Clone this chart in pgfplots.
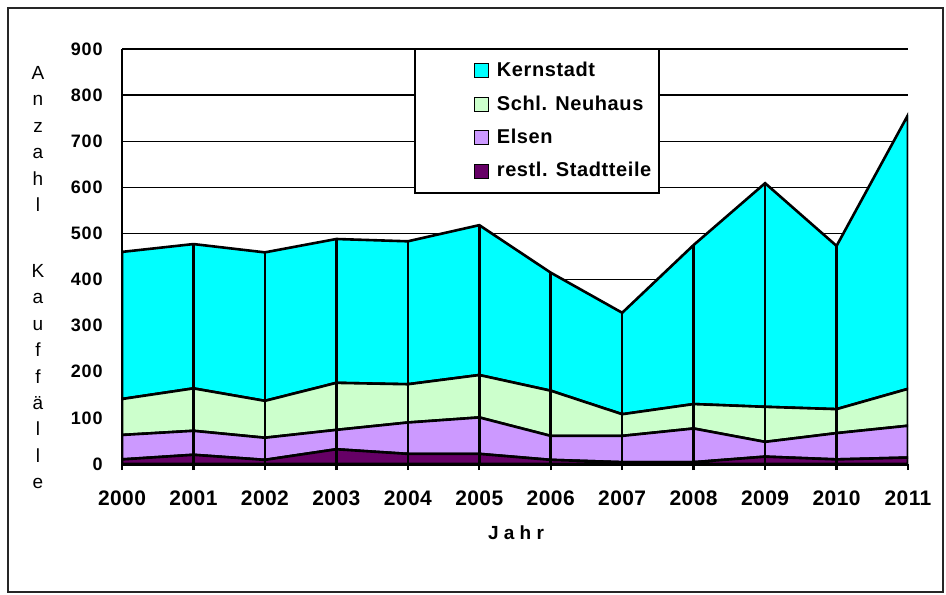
\documentclass[border=0pt]{standalone}
\usepackage{pgfplots}
\pgfplotsset{compat=1.18}
\usepackage{fontspec}
\setmainfont{Liberation Sans}
\definecolor{kern}{HTML}{00FFFF}
\definecolor{schl}{HTML}{CCFFCC}
\definecolor{elsen}{HTML}{CC99FF}
\definecolor{restl}{HTML}{660066}
\begin{document}
\begin{tikzpicture}
\useasboundingbox (0pt,0pt) rectangle (473pt,-297pt);
\draw[line width=0.75pt, black!85] (4pt,-4pt) rectangle (471.5pt,-296pt);
\pgfplotsset{myaxis/.style={scale only axis, width=393pt, height=207.5pt,
  at={(61pt,-232pt)}, anchor=south west,
  xmin=2000, xmax=2011, ymin=0, ymax=900}}
\begin{axis}[myaxis,
  stack plots=y,
  axis x line=bottom, axis y line=left,
  x axis line style={-, line width=1.6pt},
  y axis line style={-, line width=1.2pt},
  xtick={2000,2001,...,2011},
  xticklabels={2000,2001,2002,2003,2004,2005,2006,2007,2008,2009,2010,2011},
  ytick={0,100,...,900},
  yticklabels={0,100,200,300,400,500,600,700,800,900},
  tick align=outside, major tick length=3pt,
  xtick style={black, line width=1.2pt},
  ytick style={draw=none},
  ymajorgrids, grid style={black, line width=0.7pt},
  xticklabel style={font=\bfseries\fontsize{10.5}{12}\selectfont\addfontfeature{LetterSpace=2}, inner sep=0pt, anchor=north, yshift=-10pt},
  yticklabel style={font=\bfseries\fontsize{9}{10}\selectfont\addfontfeature{LetterSpace=5}, inner sep=0pt, anchor=east, xshift=-6.5pt},
  reverse legend,
  legend style={at={(0.3715,1.0024)}, anchor=north west, draw=black, line width=1pt,
    font=\bfseries\fontsize{10}{11.5}\selectfont\addfontfeature{LetterSpace=3},
    inner xsep=2pt, inner ysep=4.5pt, row sep=4pt,
    /tikz/every odd column/.append style={column sep=2pt},
    /tikz/every even column/.append style={column sep=10pt}},
  legend cell align=left,
  legend image code/.code={\path (-27pt,0pt); \draw[#1, draw=black, line width=0.6pt] (0pt,-3.5pt) rectangle (7pt,3.5pt);},
]
\addplot[fill=restl, draw=black, line width=1.3pt] coordinates {(2000,10) (2001,20) (2002,9) (2003,32) (2004,22) (2005,22) (2006,9) (2007,4) (2008,4) (2009,16) (2010,10) (2011,14)} \closedcycle;
\addplot[fill=elsen, draw=black, line width=1.3pt] coordinates {(2000,53) (2001,52) (2002,48) (2003,42) (2004,68) (2005,79) (2006,52) (2007,57) (2008,73) (2009,32) (2010,57) (2011,69)} \closedcycle;
\addplot[fill=schl, draw=black, line width=1.3pt] coordinates {(2000,78) (2001,92) (2002,80) (2003,102) (2004,83) (2005,92) (2006,98) (2007,47) (2008,53) (2009,76) (2010,52) (2011,80)} \closedcycle;
\addplot[fill=kern, draw=black, line width=1.3pt] coordinates {(2000,319) (2001,313) (2002,322) (2003,312) (2004,310) (2005,325) (2006,256) (2007,220) (2008,345) (2009,485) (2010,354) (2011,594)} \closedcycle;
\legend{restl. Stadtteile, Elsen, Schl. Neuhaus, Kernstadt}
\end{axis}
\begin{axis}[myaxis, hide axis]
\addplot[ycomb, black, line width=1.3pt] coordinates {(2000,460) (2001,477) (2002,459) (2003,488) (2004,483) (2005,518) (2006,415) (2007,328) (2008,475) (2009,609) (2010,473) (2011,757)};
\end{axis}
\node[align=center, inner sep=0pt, anchor=north, font=\fontsize{9.5}{13.2}\selectfont] at (19pt,-33pt)
  {A\\n\\z\\a\\h\\l\\[19.8pt]K\\a\\u\\f\\f\\ä\\l\\l\\e};
\node[font=\bfseries\fontsize{9.5}{11}\selectfont] at (258pt,-266.5pt) {J a h r};
\end{tikzpicture}
\end{document}
